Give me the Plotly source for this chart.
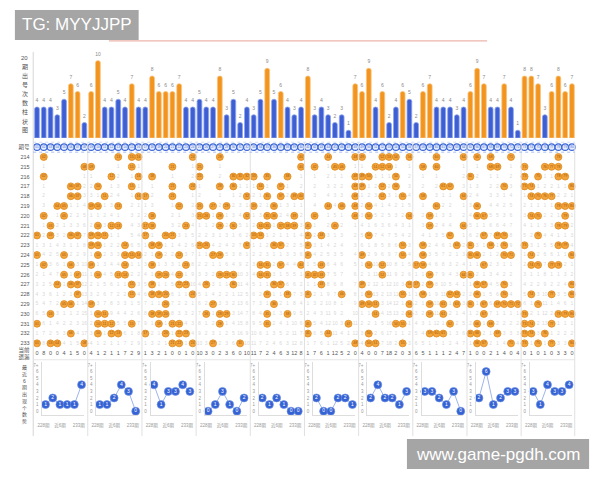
import plotly.graph_objects as go

W, H = 600, 480

# ---------------- data ----------------
numbers = list(range(1, 81))
bar_counts = [4, 4, 4, 3, 5, 7, 6, 2, 6, 10,
              4, 4, 5, 4, 7, 4, 4, 8, 6, 6,
              6, 7, 4, 4, 5, 4, 4, 8, 3, 5,
              2, 4, 3, 5, 9, 5, 6, 4, 3, 4,
              8, 3, 4, 3, 2, 3, 1, 7, 6, 9,
              4, 6, 2, 4, 6, 5, 2, 6, 7, 4,
              4, 4, 3, 4, 6, 9, 7, 4, 4, 7,
              4, 1, 8, 8, 7, 3, 6, 8, 6, 7]

periods = [str(p) for p in range(214, 234)]
draw_numbers = [
    [2, 13, 15, 16, 24, 28, 40, 44, 48, 49, 52, 53, 54, 56, 60, 64, 66, 68, 71, 78],
    [8, 9, 15, 21, 25, 40, 42, 45, 46, 51, 52, 53, 58, 60, 68, 69, 73, 76, 77, 78],
    [2, 12, 16, 18, 25, 30, 31, 32, 33, 35, 38, 48, 49, 50, 54, 65, 73, 75, 78, 79],
    [6, 7, 10, 15, 21, 24, 28, 30, 34, 37, 48, 49, 52, 54, 61, 62, 70, 73, 74, 80],
    [6, 7, 11, 16, 17, 21, 32, 35, 37, 39, 40, 48, 52, 55, 58, 64, 74, 75, 76, 77],
    [4, 5, 9, 10, 13, 22, 25, 27, 29, 33, 36, 44, 46, 48, 50, 60, 66, 78, 79, 80],
    [2, 5, 18, 25, 26, 28, 32, 35, 36, 39, 42, 48, 50, 56, 59, 66, 67, 74, 75, 79],
    [3, 10, 12, 13, 17, 18, 23, 28, 30, 34, 35, 37, 38, 39, 41, 45, 59, 64, 78, 79],
    [1, 3, 6, 7, 9, 10, 11, 17, 20, 21, 33, 34, 41, 43, 50, 62, 67, 69, 70, 75],
    [9, 10, 14, 18, 19, 25, 26, 32, 36, 37, 41, 55, 58, 63, 65, 68, 70, 73, 78, 79],
    [1, 5, 10, 14, 15, 16, 19, 22, 27, 28, 41, 49, 55, 58, 65, 66, 70, 71, 74, 80],
    [2, 6, 9, 14, 18, 23, 34, 35, 37, 40, 43, 50, 52, 57, 58, 67, 74, 75, 77, 78],
    [5, 7, 10, 13, 14, 19, 20, 22, 28, 29, 30, 34, 35, 41, 42, 43, 52, 59, 64, 65],
    [4, 6, 7, 15, 18, 22, 23, 26, 30, 36, 37, 43, 49, 56, 57, 59, 66, 67, 70, 80],
    [7, 15, 18, 19, 20, 24, 35, 38, 41, 46, 50, 55, 58, 62, 63, 66, 70, 74, 77, 80],
    [5, 6, 9, 20, 27, 36, 49, 50, 51, 56, 59, 61, 63, 65, 67, 69, 70, 71, 72, 75],
    [3, 10, 11, 18, 19, 20, 26, 28, 29, 35, 38, 51, 56, 59, 61, 67, 73, 78, 79, 80],
    [1, 10, 11, 12, 15, 19, 21, 22, 28, 35, 41, 47, 54, 55, 62, 66, 68, 73, 74, 77],
    [6, 10, 12, 13, 17, 20, 22, 23, 41, 44, 50, 59, 60, 61, 65, 66, 69, 73, 74, 76],
    [1, 3, 4, 8, 21, 22, 24, 27, 31, 48, 50, 51, 55, 66, 67, 71, 73, 75, 77, 80],
]

current_miss = [0, 8, 0, 0, 4, 1, 5, 0, 4, 1, 2, 1, 1, 7, 2, 9,
                1, 3, 2, 1, 0, 0, 1, 0, 10, 3, 0, 2, 3, 6, 0, 10,
                11, 7, 2, 4, 6, 3, 12, 8, 1, 7, 6, 1, 12, 5, 2, 0,
                4, 0, 0, 7, 18, 2, 0, 3, 6, 5, 1, 1, 1, 2, 4, 7,
                1, 0, 0, 2, 1, 4, 0, 4, 0, 1, 0, 1, 0, 3, 3, 0]

recent_counts = [
    [1, 2, 1, 1, 1, 4],
    [1, 1, 2, 4, 3, 0],
    [4, 1, 3, 3, 4, 3],
    [0, 1, 3, 1, 0, 2],
    [2, 1, 2, 1, 0, 0],
    [2, 0, 0, 2, 2, 1],
    [2, 4, 2, 2, 1, 3],
    [3, 3, 2, 1, 3, 0],
    [2, 6, 1, 2, 3, 3],
    [3, 1, 4, 3, 3, 4],
]
recent_x_labels = ["228期", "近6期", "233期"]
recent_y_labels = ["0", "1", "2", "3", "4", "5", "6", "7+"]

bar_axis_title = ["20", "期", "出", "号", "次", "数", "柱", "状", "图"]
trend_axis_title = ["最", "近", "6", "期", "出", "现", "个", "数", "势"]

# ---------------- styling ----------------
BLUE = "#3d5fd3"
ORANGE = "#f2941e"
BALL = "#f3a43a"
FONT = "Liberation Sans, Noto Sans CJK SC, sans-serif"

col0 = 32.3       # px centre of number 1
colw = 6.84       # px per number
x_dom = [(col0 - 0.5 * colw) / W, (col0 + 79.5 * colw) / W]

fig = go.Figure()

# bars
fig.add_trace(go.Bar(
    x=numbers, y=bar_counts, xaxis="x", yaxis="y",
    marker=dict(color=[ORANGE if v >= 6 else BLUE for v in bar_counts],
                line=dict(color=["#f9c47e" if v >= 6 else "#90a6ec" for v in bar_counts], width=0.8),
                cornerradius=2),
    width=0.7, hoverinfo="skip"))
fig.add_trace(go.Scatter(
    x=numbers, y=[v + 0.8 for v in bar_counts], xaxis="x", yaxis="y",
    mode="text", text=[str(v) for v in bar_counts],
    textfont=dict(size=5, color="#8a8a8a"), hoverinfo="skip", cliponaxis=False))

# header circles
fig.add_trace(go.Scatter(
    x=numbers, y=[-1] * 80, xaxis="x", yaxis="y2", mode="markers+text",
    text=[f"{n:02d}" for n in numbers], textfont=dict(size=3, color="#3a66d6"),
    marker=dict(size=6.5, color="#e6edfc", line=dict(color="#3a66d6", width=1.1)),
    hoverinfo="skip", cliponaxis=False))

# faint omission digits inside grid
gx, gy, gt = [], [], []
hit_sets = [set(d) for d in draw_numbers]
for n in numbers:
    last = None
    for i, s in enumerate(hit_sets):
        if n in s:
            last = i
        elif last is not None:
            gx.append(n); gy.append(i); gt.append(str(i - last))
fig.add_trace(go.Scatter(
    x=gx, y=gy, xaxis="x", yaxis="y2", mode="text", text=gt,
    textfont=dict(size=5, color="#d8d8d8"), hoverinfo="skip"))

# drawn balls
bx, by, bt = [], [], []
for i, d in enumerate(draw_numbers):
    for n in d:
        bx.append(n); by.append(i); bt.append(f"{n:02d}")
fig.add_trace(go.Scatter(
    x=bx, y=by, xaxis="x", yaxis="y2", mode="markers+text", text=bt,
    textfont=dict(size=3.5, color="#a4550a"),
    marker=dict(size=7, color=BALL, line=dict(color="#de8a20", width=0.8)),
    hoverinfo="skip"))

# current omission row
fig.add_trace(go.Scatter(
    x=numbers, y=[20] * 80, xaxis="x", yaxis="y2", mode="text",
    text=[str(v) for v in current_miss], textfont=dict(size=5.5, color="#555"),
    hoverinfo="skip", cliponaxis=False))

layout = dict(
    width=W, height=H, margin=dict(l=0, r=0, t=0, b=0),
    paper_bgcolor="white", plot_bgcolor="rgba(0,0,0,0)", showlegend=False,
    font=dict(family=FONT),
    bargap=0.3,
    xaxis=dict(domain=x_dom, range=[0.5, 80.5], visible=False, anchor="y"),
    yaxis=dict(domain=[1 - 138.3 / H, 1 - 53 / H], range=[0, 11], visible=False, anchor="x"),
    yaxis2=dict(domain=[0.25, 1 - 140 / H], range=[20.62, -1.76], anchor="x",
                tickvals=list(range(-1, 21)),
                ticktext=["期号"] + periods + ["当前<br>遗漏"],
                tickfont=dict(size=5.5, color="#555"), showgrid=False, zeroline=False,
                showline=False, ticks="", ticklabelstandoff=3),
)

# mini trend charts
for p, vals in enumerate(recent_counts):
    xa = f"x{p + 2}"
    ya = f"y{p + 3}"
    left = 37.7 + p * 8 * colw
    layout[f"xaxis{p + 2}"] = dict(
        domain=[left / W, (left + 42.3) / W], anchor=ya, range=[-0.45, 5.37],
        tickvals=[-0.3, 2.0, 4.6], ticktext=recent_x_labels,
        tickfont=dict(size=4.5, color="#999"), showgrid=False, zeroline=False,
        showline=True, linecolor="#dddddd", linewidth=1, ticks="", ticklabelstandoff=5)
    layout[f"yaxis{p + 3}"] = dict(
        domain=[1 - 416 / H, 1 - 363 / H], anchor=xa, range=[-0.6, 7.42],
        tickvals=list(range(8)), ticktext=recent_y_labels,
        tickfont=dict(size=4.5, color="#999"), showgrid=False, zeroline=False,
        showline=True, linecolor="#dddddd", linewidth=1, ticks="", ticklabelstandoff=2)
    fig.add_trace(go.Scatter(
        x=list(range(6)), y=vals, xaxis=xa, yaxis=ya, mode="lines+markers+text",
        text=[str(v) for v in vals], textposition="middle center",
        textfont=dict(size=5, color="white"),
        line=dict(color="#9db5ec", width=1),
        marker=dict(size=8, color="#3563d3", line=dict(color="#6f90e4", width=0.6)),
        hoverinfo="skip", cliponaxis=False))

fig.update_layout(**layout)

shapes = []
# section separators
for s in range(1, 10):
    shapes.append(dict(type="line", xref="x", yref="paper", x0=8 * s + 0.5, x1=8 * s + 0.5,
                       y0=1 - 437 / H, y1=1 - 143 / H, line=dict(color="#e0e0e0", width=1)))
# frame
shapes += [
    dict(type="line", xref="paper", yref="paper", x0=28.5 / W, x1=28.5 / W, y0=1 - 437 / H, y1=1 - 52 / H,
         line=dict(color="#d5d5d5", width=1)),
    dict(type="line", xref="paper", yref="paper", x0=575.5 / W, x1=575.5 / W, y0=1 - 437 / H, y1=1 - 143 / H,
         line=dict(color="#e0e0e0", width=1)),
    dict(type="line", xref="paper", yref="paper", x0=28.5 / W, x1=575.5 / W, y0=1 - 152.5 / H, y1=1 - 152.5 / H,
         line=dict(color="#a9c0f0", width=1, dash="dot")),
    dict(type="line", xref="paper", yref="paper", x0=28.5 / W, x1=575.5 / W, y0=1 - 142.5 / H, y1=1 - 142.5 / H,
         line=dict(color="#cfdcf7", width=1, dash="dot")),
    dict(type="line", xref="paper", yref="paper", x0=28.5 / W, x1=575.5 / W, y0=1 - 360.5 / H, y1=1 - 360.5 / H,
         line=dict(color="#e6e6e6", width=1)),
    # red rule
    dict(type="line", xref="paper", yref="paper", x0=105 / W, x1=487 / W, y0=1 - 41 / H, y1=1 - 41 / H,
         line=dict(color="#e6a395", width=1)),
    # watermark boxes
    dict(type="rect", xref="paper", yref="paper", x0=10 / W, x1=135 / W, y0=1 - 40 / H, y1=1 - 10 / H,
         fillcolor="#a5a5a5", line=dict(width=0), layer="above"),
    dict(type="rect", xref="paper", yref="paper", x0=406 / W, x1=590 / W, y0=1 - 470 / H, y1=1 - 440 / H,
         fillcolor="#a5a5a5", line=dict(width=0), layer="above"),
]

annotations = []
for k, ch in enumerate(bar_axis_title):
    annotations.append(dict(xref="paper", yref="paper", x=20 / W, y=1 - (58 + 9.1 * k) / H,
                            showarrow=False, text=ch, font=dict(size=6, color="#555"),
                            xanchor="center", yanchor="middle"))
for k, ch in enumerate(trend_axis_title):
    annotations.append(dict(xref="paper", yref="paper", x=20 / W, y=1 - (368 + 6.8 * k) / H,
                            showarrow=False, text=ch, font=dict(size=5, color="#555"),
                            xanchor="center", yanchor="middle"))
annotations += [
    dict(xref="paper", yref="paper", x=72.5 / W, y=1 - 25 / H, showarrow=False,
         text="TG: MYYJJPP", font=dict(size=17, color="white", family="Liberation Sans"),
         xanchor="center", yanchor="middle"),
    dict(xref="paper", yref="paper", x=498 / W, y=1 - 455 / H, showarrow=False,
         text="www.game-pgdh.com", font=dict(size=17, color="white", family="Liberation Sans"),
         xanchor="center", yanchor="middle"),
]
fig.update_layout(shapes=shapes, annotations=annotations)

fig.write_html("out.html")
